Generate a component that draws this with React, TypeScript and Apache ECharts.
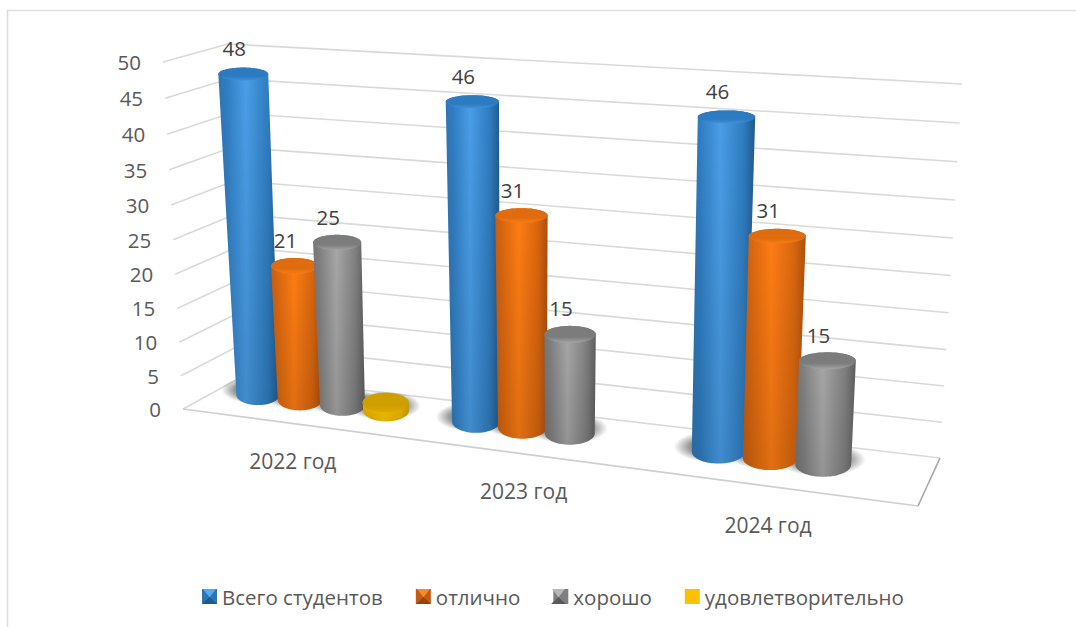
import React, { useEffect, useRef } from "react";
import * as echarts from "echarts";

const categories = ["2022 год", "2023 год", "2024 год"];
const seriesNames = ["Всего студентов", "отлично", "хорошо", "удовлетворительно"];
const totalValues = [48, 46, 46];
const excellentValues = [21, 31, 31];
const goodValues = [25, 15, 15];
const satisfactoryValues = [2, 0, 0];
const allValues = [totalValues, excellentValues, goodValues, satisfactoryValues];
const labelledSeries = [true, true, true, false];
const yTicks = [0, 5, 10, 15, 20, 25, 30, 35, 40, 45, 50];

const FONT = '"Open Sans", "Noto Sans", sans-serif';

type Pt = [number, number];
// box corners on screen: back-left, back-right, front-right, front-left
const floorQ: Pt[] = [[243, 376], [940, 458], [918, 506], [183, 409]];
const roofQ: Pt[] = [[228, 44], [962, 84], [936, 118], [163, 62]];
const PERSP_U = -0.15;
const PERSP_V = 1.05;
function bil(q: Pt[], u: number, d: number): Pt {
  const ax = q[0][0] + (q[1][0] - q[0][0]) * u, ay = q[0][1] + (q[1][1] - q[0][1]) * u;
  const bx = q[3][0] + (q[2][0] - q[3][0]) * u, by = q[3][1] + (q[2][1] - q[3][1]) * u;
  return [ax + (bx - ax) * d, ay + (by - ay) * d];
}
const warpU = (u: number) => (u * (1 + PERSP_U)) / (1 + PERSP_U * u);
function P(u: number, v: number, d: number): Pt {
  const w = warpU(u);
  const a = bil(floorQ, w, d);
  const b = bil(roofQ, w, d);
  const t = v / (PERSP_V + (1 - PERSP_V) * v);
  return [a[0] + (b[0] - a[0]) * t, a[1] + (b[1] - a[1]) * t];
}

function norm(params: any, px: number[]) {
  const c = params.coordSys;
  return { u: (px[0] - c.x) / c.width, v: (c.y + c.height - px[1]) / c.height };
}

const N = 72;
function ellipse(cx: number, cy: number, a: number, b: number): Pt[] {
  const out: Pt[] = [];
  for (let i = 0; i < N; i++) {
    const t = (i / N) * Math.PI * 2;
    out.push([cx + a * Math.cos(t), cy + b * Math.sin(t)]);
  }
  return out;
}
function hull(points: Pt[]): Pt[] {
  const s = points.slice().sort((a, b) => a[0] - b[0] || a[1] - b[1]);
  const cross = (o: Pt, a: Pt, b: Pt) => (a[0] - o[0]) * (b[1] - o[1]) - (a[1] - o[1]) * (b[0] - o[0]);
  const lo: Pt[] = [];
  for (const p of s) {
    while (lo.length >= 2 && cross(lo[lo.length - 2], lo[lo.length - 1], p) <= 0) lo.pop();
    lo.push(p);
  }
  const up: Pt[] = [];
  for (const p of s.slice().reverse()) {
    while (up.length >= 2 && cross(up[up.length - 2], up[up.length - 1], p) <= 0) up.pop();
    up.push(p);
  }
  return lo.slice(0, -1).concat(up.slice(0, -1));
}

const L = (stops: [number, string][], vertical = false) =>
  new echarts.graphic.LinearGradient(0, 0, vertical ? 0 : 1, vertical ? 1 : 0, stops.map(([offset, color]) => ({ offset, color })));

const palette = [
  { edgeL: "#2f76b6", mid: "#4a9ee8", side: "#2f7cc0", edgeR: "#1f5a8e", cap0: "#2c7abf", cap1: "#3f92dc", flat: "#2e75b6", light: "#58aaf0", dark: "#1f5a8e" },
  { edgeL: "#c85d10", mid: "#ff7d14", side: "#d8660f", edgeR: "#ad4f0c", cap0: "#e06c10", cap1: "#f87c14", flat: "#c55a11", light: "#f58a30", dark: "#96440a" },
  { edgeL: "#767676", mid: "#a8a8a8", side: "#808080", edgeR: "#5f5f5f", cap0: "#7c7c7c", cap1: "#a4a4a4", flat: "#7f7f7f", light: "#b8b8b8", dark: "#5a5a5a" },
  { edgeL: "#e8b000", mid: "#ffc800", side: "#eeb800", edgeR: "#cfa000", cap0: "#cf9f00", cap1: "#dcaa00", flat: "#ffc000", light: "#ffc000", dark: "#ffc000" },
];

function barGeom(params: any, api: any, j: number) {
  const px = api.coord([api.value(0), api.value(1)]);
  const barPx = api.size([1, 0])[0] / 5;
  const { u, v } = norm(params, [px[0] + (j - 1.5) * barPx, px[1]]);
  const ru = barPx / params.coordSys.width / 2;
  const at = (val: number, bBase: number, dy: number) => {
    const cx = P(u, val, 0.5)[0] + 4;
    const cy = P(u, val, 0.42 + 0.25 * val)[1] + dy;
    const span = P(u + ru, val, 0.5)[0] - P(u - ru, val, 0.5)[0];
    return { cx, cy, a: (span / 2) * (1.04 + 0.12 * val * (1 - u)), b: bBase };
  };
  const top = at(v, 6.5 + 3.5 * Math.pow(1 - v, 1.5), 5 - 3.6 * v - 10 * u * v);
  const bottom = at(0, 10 + 2.5 * u, 0);
  return { top, bottom, v };
}

function makeBar(j: number) {
  return (params: any, api: any) => {
    const val = api.value(1);
    if (!val) return { type: "group", children: [] };
    const { top, bottom } = barGeom(params, api, j);
    const tp = ellipse(top.cx, top.cy, top.a, top.b);
    const bt = ellipse(bottom.cx, bottom.cy, bottom.a, bottom.b);
    const c = palette[j];
    const body = hull(tp.concat(bt));
    const children: any[] = [
      {
        type: "polygon",
        shape: { points: body },
        style: { fill: L([[0, c.edgeL], [0.12, c.side], [0.45, c.mid], [0.82, c.side], [1, c.edgeR]]) },
      },
      {
        type: "polygon",
        shape: { points: body },
        style: { fill: L([[0, "rgba(0,0,0,0)"], [1, "rgba(0,0,0,0.12)"]], true) },
      },
      {
        type: "polygon",
        shape: { points: tp },
        style: { fill: L([[0, c.cap0], [0.65, c.cap0], [1, c.cap1]], true) },
      },
    ];
    if (labelledSeries[j]) {
      children.push({
        type: "text",
        style: {
          text: String(val), x: top.cx - 9, y: top.cy - 26, align: "center", verticalAlign: "middle",
          fill: "#404040", fontSize: 20.5, fontFamily: FONT,
        },
      });
    }
    return { type: "group", children };
  };
}

function makeShadow(j: number) {
  return (params: any, api: any) => {
    if (!api.value(1)) return { type: "group", children: [] };
    const { bottom } = barGeom(params, api, j);
    return {
      type: "polygon",
      shape: { points: ellipse(bottom.cx - 2, bottom.cy - 5, bottom.a * 1.6, bottom.b * 1.35) },
      style: {
        fill: new echarts.graphic.RadialGradient(0.5, 0.5, 0.5, [
          { offset: 0, color: "rgba(0,0,0,0.55)" },
          { offset: 0.62, color: "rgba(0,0,0,0.42)" },
          { offset: 1, color: "rgba(0,0,0,0)" },
        ]),
      },
    };
  };
}

function renderGrid(params: any, api: any) {
  const px = api.coord([0, api.value(1)]);
  const { v } = norm(params, px);
  const a = P(0, v, 1), b = P(0, v, 0), c = P(1, v, 0);
  const children: any[] = [
    { type: "polyline", shape: { points: [a, b, c] }, style: { stroke: "#d9d9d9", lineWidth: 1.6, fill: "none" } },
    {
      type: "text",
      style: {
        text: String(api.value(1)), x: a[0] - 22, y: a[1], align: "right", verticalAlign: "middle",
        fill: "#595959", fontSize: 20.5, fontFamily: FONT,
      },
    },
  ];
  if (api.value(1) === 0) {
    const e = P(1, 0, 1);
    children.push({ type: "polyline", shape: { points: [a, e] }, style: { stroke: "#cfcfcf", lineWidth: 1.6, fill: "none" } });
    children.push({ type: "polyline", shape: { points: [e, c] }, style: { stroke: "#a6a6a6", lineWidth: 1.6, fill: "none" } });
  }
  return { type: "group", children };
}

function renderCat(params: any, api: any) {
  const idx = api.value(0);
  const px = api.coord([idx, 0]);
  const { u } = norm(params, px);
  const p = P(u, 0, 1);
  return {
    type: "text",
    style: {
      text: categories[idx], x: p[0] + 3 - 39 * Math.max(0, u - 0.5), y: p[1] + 37.5, align: "center", verticalAlign: "middle",
      fill: "#595959", fontSize: 21, fontFamily: FONT,
    },
  };
}

function bevel(x: number, y: number, s: number, j: number) {
  const c = palette[j];
  return [
    { type: "polygon", silent: true, z: 50, shape: { points: [[x, y + s], [x + s / 2, y + s * 0.55], [x + s, y + s]] }, style: { fill: c.dark } },
    { type: "polygon", silent: true, z: 50, shape: { points: [[x + 1, y], [x + s / 2, y + s * 0.55], [x + s - 1, y]] }, style: { fill: c.light } },
  ];
}

export default function App() {
  const ref = useRef<HTMLDivElement>(null);
  useEffect(() => {
    const chart = echarts.init(ref.current!, undefined, { renderer: "svg" });
    const pairs = (vals: number[]) => vals.map((y, x) => [x, y]);
    const common = { type: "custom", coordinateSystem: "cartesian2d", clip: false, silent: true, encode: { x: 0, y: 1 } };
    chart.setOption({
      animation: false,
      backgroundColor: "#ffffff",
      grid: { left: 100, right: 100, top: 50, bottom: 100 },
      xAxis: { type: "category", data: categories, show: false },
      yAxis: { type: "value", min: 0, max: 50, interval: 5, show: false },
      legend: {
        left: 197,
        top: 581,
        itemWidth: 15,
        itemHeight: 15,
        itemGap: 33,
        selectedMode: false,
        icon: "rect",
        textStyle: { color: "#595959", fontSize: 20.5, fontFamily: FONT },
        data: seriesNames.map((name, j) => ({ name, itemStyle: { color: palette[j].flat } })),
      },
      series: [
        { ...common, name: "grid", z: 1, data: yTicks.map((t) => [0, t]), renderItem: renderGrid },
        { ...common, name: "cats", z: 1, data: categories.map((_, i) => [i, 0]), renderItem: renderCat },
        ...seriesNames.map((_, j) => ({ ...common, name: "shadow" + j, z: 2, data: pairs(allValues[j]), renderItem: makeShadow(j) })),
        ...seriesNames.map((name, j) => ({
          ...common, name, z: 3 + j, data: pairs(allValues[j]), renderItem: makeBar(j),
          itemStyle: { color: palette[j].flat },
        })),
      ],
      graphic: [
        { type: "line", silent: true, shape: { x1: 7, y1: 10.5, x2: 1076, y2: 10.5 }, style: { stroke: "#dedede", lineWidth: 1.6 } },
        { type: "line", silent: true, shape: { x1: 7.5, y1: 10, x2: 7.5, y2: 627 }, style: { stroke: "#dedede", lineWidth: 1.6 } },
        ...bevel(202, 589, 15, 0),
        ...bevel(416, 589, 15, 1),
        ...bevel(551, 589, 15, 2),
      ],
    });
    return () => chart.dispose();
  }, []);
  return <div ref={ref} style={{ position: "absolute", left: 0, top: 0, width: 1076, height: 627 }} />;
}
